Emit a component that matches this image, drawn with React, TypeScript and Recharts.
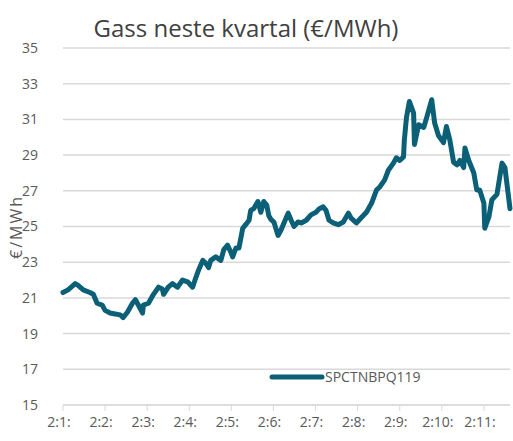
import { LineChart, Line, XAxis, YAxis, CartesianGrid } from 'recharts';

// time in months since start of year (2:1: = January)
const months = [
  0.0, 0.12, 0.29, 0.36, 0.48, 0.64, 0.72, 0.81, 0.93, 1.0,
  1.12, 1.24, 1.36, 1.43, 1.53, 1.65, 1.72, 1.79, 1.89, 1.91,
  2.03, 2.15, 2.27, 2.36, 2.39, 2.5, 2.6, 2.72, 2.84, 2.96,
  3.08, 3.15, 3.22, 3.32, 3.39, 3.46, 3.51, 3.63, 3.75, 3.82,
  3.91, 3.99, 4.03, 4.11, 4.18, 4.27, 4.34, 4.42, 4.46, 4.53,
  4.63, 4.7, 4.77, 4.84, 4.89, 4.94, 5.01, 5.11, 5.18, 5.25,
  5.35, 5.42, 5.49, 5.58, 5.66, 5.78, 5.89, 6.01, 6.09, 6.18,
  6.25, 6.32, 6.42, 6.54, 6.66, 6.78, 6.85, 6.97, 7.09, 7.21,
  7.33, 7.45, 7.52, 7.64, 7.73, 7.85, 7.92, 8.0, 8.09, 8.11,
  8.16, 8.23, 8.33, 8.35, 8.45, 8.57, 8.64, 8.76, 8.83, 8.92,
  9.04, 9.11, 9.19, 9.28, 9.36, 9.43, 9.52, 9.55, 9.64, 9.76,
  9.83, 9.9, 10.0, 10.02, 10.12, 10.19, 10.31, 10.43, 10.5, 10.62,
];

const prices = [
  21.3, 21.45, 21.8, 21.7, 21.45, 21.3, 21.2, 20.7, 20.6, 20.3,
  20.15, 20.1, 20.05, 19.9, 20.2, 20.7, 20.9, 20.6, 20.15, 20.6,
  20.7, 21.2, 21.6, 21.5, 21.2, 21.6, 21.8, 21.6, 22.0, 21.9,
  21.6, 22.1, 22.55, 23.1, 22.95, 22.7, 23.1, 23.3, 23.1, 23.7,
  23.95, 23.55, 23.3, 23.8, 23.8, 24.9, 25.1, 25.35, 25.9, 26.0,
  26.4, 25.8, 26.4, 26.2, 25.6, 25.4, 25.25, 24.5, 24.8, 25.2,
  25.75, 25.35, 25.0, 25.25, 25.2, 25.35, 25.65, 25.8, 26.0, 26.1,
  25.9, 25.35, 25.2, 25.1, 25.25, 25.75, 25.45, 25.2, 25.5, 25.8,
  26.3, 27.05, 27.2, 27.6, 28.15, 28.55, 28.85, 28.7, 28.9, 29.85,
  31.1, 32.0, 31.35, 29.6, 30.7, 30.55, 31.1, 32.1, 30.8, 30.1,
  29.7, 30.6, 29.85, 28.6, 28.45, 28.7, 28.3, 29.4, 28.7, 28.0,
  27.05, 27.05, 26.3, 24.9, 25.55, 26.5, 26.8, 28.55, 28.3, 26.0,
];

const monthTicks = [0, 1, 2, 3, 4, 5, 6, 7, 8, 9, 10];
const monthLabels = ['2:1:', '2:2:', '2:3:', '2:4:', '2:5:', '2:6:', '2:7:', '2:8:', '2:9:', '2:10:', '2:11:'];
const priceTicks = [15, 17, 19, 21, 23, 25, 27, 29, 31, 33, 35];

const seriesName = 'SPCTNBPQ119';
const lineColor = '#0b6077';
const textColor = '#595959';
const font = '"Open Sans", "Noto Sans", sans-serif';

const data = months.map((t, i) => ({ t, price: prices[i] }));

export default function App() {
  return (
    <div style={{ position: 'absolute', left: 0, top: 0, width: 513, height: 441, background: '#fff' }}>
      <LineChart
        width={513}
        height={441}
        data={data}
        margin={{ top: 48, right: 3, left: 0, bottom: 6 }}
      >
        <CartesianGrid vertical={false} stroke="#d9d9d9" strokeWidth={1.5} />
        <XAxis
          dataKey="t"
          type="number"
          domain={[0, 10.62]}
          ticks={monthTicks}
          tickFormatter={(v: number) => monthLabels[v] ?? ''}
          height={30}
          stroke="#d9d9d9"
          tickSize={6}
          tickMargin={6}
          dx={-4}
          tick={{ fill: textColor, fontSize: 14, fontFamily: font }}
          interval={0}
        />
        <YAxis
          domain={[15, 35]}
          ticks={priceTicks}
          width={63}
          axisLine={false}
          tickLine={false}
          tickMargin={19}
          tick={{ fill: textColor, fontSize: 14, fontFamily: font }}
        />
        <Line
          type="linear"
          dataKey="price"
          name={seriesName}
          stroke={lineColor}
          strokeWidth={5}
          strokeLinejoin="round"
          strokeLinecap="round"
          dot={false}
          isAnimationActive={false}
        />
      </LineChart>
      <svg width={513} height={441} style={{ position: 'absolute', left: 0, top: 0, pointerEvents: 'none' }}>
        <text x={246} y={37} textAnchor="middle" fontFamily={font} fontSize={24} fill="#404040">
          Gass neste kvartal (€/MWh)
        </text>
        <text
          x={0}
          y={0}
          transform="translate(22 227) rotate(-90)"
          textAnchor="middle"
          fontFamily={font}
          fontSize={16}
          letterSpacing={2}
          fill={textColor}
        >
          €/MWh
        </text>
      </svg>
      <div
        style={{
          position: 'absolute',
          left: 268,
          top: 367,
          display: 'flex',
          alignItems: 'center',
          fontFamily: font,
          fontSize: 14,
          color: textColor,
        }}
      >
        <svg width={57} height={8}>
          <line x1={4} y1={4} x2={54} y2={4} stroke={lineColor} strokeWidth={5} strokeLinecap="round" />
        </svg>
        <span>{seriesName}</span>
      </div>
    </div>
  );
}
